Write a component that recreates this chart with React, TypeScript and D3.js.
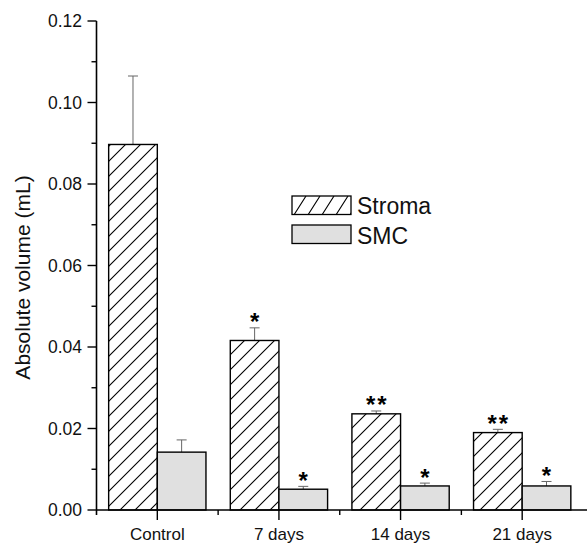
import React from 'react';
import * as d3 from 'd3';

const categories = ['Control', '7 days', '14 days', '21 days'];
const stromaMean = [0.0897, 0.0416, 0.0236, 0.019];
const stromaErr = [0.0168, 0.0031, 0.0007, 0.0008];
const smcMean = [0.0142, 0.0051, 0.0059, 0.0059];
const smcErr = [0.003, 0.0007, 0.0007, 0.0011];
const stromaSig = ['', '*', '**', '**'];
const smcSig = ['', '*', '*', '*'];
const yTicks = [0, 0.02, 0.04, 0.06, 0.08, 0.1, 0.12];
const yMinor = [0.01, 0.03, 0.05, 0.07, 0.09, 0.11];
const legendLabels = ['Stroma', 'SMC'];

const W = 587, H = 544;
const font = '"Liberation Sans", Arial, Helvetica, sans-serif';

export default function App() {
  const x = d3.scaleLinear().domain([0.5, 4.5]).range([96.5, 583]);
  const y = d3.scaleLinear().domain([0, 0.12]).range([510, 21]);
  const bw = 0.4; // bar width in category units
  const fmt = d3.format('.2f');

  const bar = (i: number, left: boolean, mean: number, err: number, sig: string, key: string) => {
    const c = i + 1;
    const x0 = left ? x(c - bw) : x(c);
    const x1 = left ? x(c) : x(c + bw);
    const cx = (x0 + x1) / 2;
    const top = y(mean), et = y(mean + err);
    return (
      <g key={key}>
        <line x1={cx} x2={cx} y1={top} y2={et} stroke="#666" strokeWidth={1} />
        <line x1={cx - 5} x2={cx + 5} y1={et} y2={et} stroke="#666" strokeWidth={1} />
        <rect x={x0} y={top} width={x1 - x0} height={y(0) - top}
          fill={left ? 'url(#hatch)' : '#e0e0e0'} stroke="#000" strokeWidth={1.4} />
        {sig && (
          <text x={cx + (sig.length > 1 ? 1 : 0)} y={et + 2.5} textAnchor="middle" fontSize={24} fontWeight="bold"
            letterSpacing={sig.length > 1 ? 2 : 0} fontFamily={font} fill="#000">{sig}</text>
        )}
      </g>
    );
  };

  return (
    <svg width={W} height={H} style={{ position: 'absolute', left: 0, top: 0, background: '#fff' }}>
      <defs>
        <pattern id="hatch" patternUnits="userSpaceOnUse" width={15} height={15}>
          <rect width={15} height={15} fill="#fff" />
          <path d="M-1,1 L1,-1 M0,15 L15,0 M14,16 L16,14" stroke="#000" strokeWidth={1.1} />
        </pattern>
        <pattern id="hatchL" patternUnits="userSpaceOnUse" width={14} height={22} x={292} y={196}>
          <rect width={14} height={22} fill="#fff" />
          <path d="M0,22 L14,0 M-7,11 L0,0 M14,22 L21,11" stroke="#000" strokeWidth={1.1} />
        </pattern>
      </defs>

      {categories.map((_, i) => bar(i, true, stromaMean[i], stromaErr[i], stromaSig[i], 's' + i))}
      {categories.map((_, i) => bar(i, false, smcMean[i], smcErr[i], smcSig[i], 'm' + i))}

      {/* y axis */}
      <line x1={x(0.5)} x2={x(0.5)} y1={y(0.12)} y2={y(0) + 5} stroke="#000" strokeWidth={1.6} />
      {yTicks.map(t => (
        <g key={'yt' + t}>
          <line x1={x(0.5) - 9} x2={x(0.5)} y1={y(t)} y2={y(t)} stroke="#000" strokeWidth={1.4} />
          <text x={82} y={y(t)} dy="0.35em" textAnchor="end" fontSize={17.5} fontFamily={font} fill="#111">
            {fmt(t)}
          </text>
        </g>
      ))}
      {yMinor.map(t => (
        <line key={'ym' + t} x1={x(0.5) - 5} x2={x(0.5)} y1={y(t)} y2={y(t)} stroke="#000" strokeWidth={1.4} />
      ))}
      <text transform={`translate(30,${y(0.06) + 12}) rotate(-90)`} textAnchor="middle" fontSize={21}
        fontFamily={font} fill="#111">Absolute volume (mL)</text>

      {/* x axis */}
      <line x1={x(0.5)} x2={W} y1={y(0)} y2={y(0)} stroke="#000" strokeWidth={1.6} />
      {categories.map((c, i) => (
        <g key={'xt' + c}>
          <line x1={x(i + 1)} x2={x(i + 1)} y1={y(0)} y2={y(0) + 10} stroke="#000" strokeWidth={1.4} />
          <text x={x(i + 1)} y={540} textAnchor="middle" fontSize={17} fontFamily={font} fill="#111">{c}</text>
        </g>
      ))}
      {[1.5, 2.5, 3.5].map(t => (
        <line key={'xm' + t} x1={x(t)} x2={x(t)} y1={y(0)} y2={y(0) + 5} stroke="#000" strokeWidth={1.4} />
      ))}

      {/* legend */}
      {legendLabels.map((l, i) => (
        <g key={l}>
          <rect x={292} y={196 + i * 29} width={59} height={18.5}
            fill={i === 0 ? 'url(#hatchL)' : '#e0e0e0'} stroke="#000" strokeWidth={1.3} />
          <text x={357} y={214 + i * 29.5} fontSize={23} fontFamily={font} fill="#111">{l}</text>
        </g>
      ))}
    </svg>
  );
}
